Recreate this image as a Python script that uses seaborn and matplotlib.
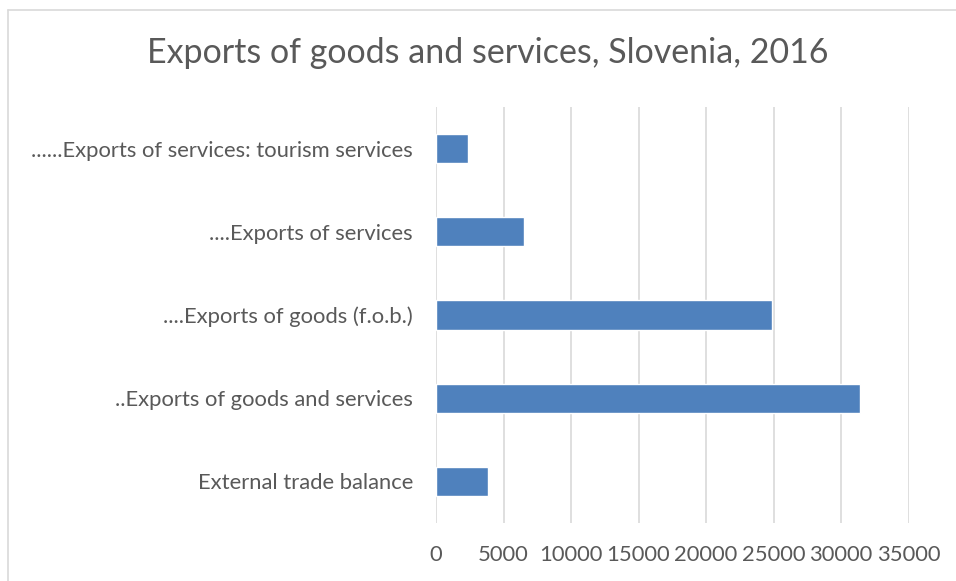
import matplotlib
matplotlib.use("Agg")
import matplotlib.pyplot as plt
from matplotlib.lines import Line2D
import seaborn as sns
import pandas as pd

categories = [
    "......Exports of services: tourism services",
    "....Exports of services",
    "....Exports of goods (f.o.b.)",
    "..Exports of goods and services",
    "External trade balance",
]
values = [2348, 6519, 24911, 31430, 3852]
xticks = [0, 5000, 10000, 15000, 20000, 25000, 30000, 35000]

sns.set_theme(style="white")
plt.rcParams["font.family"] = ["Lato", "DejaVu Sans"]

W, H = 956, 581
fig = plt.figure(figsize=(W / 100, H / 100), dpi=100)
ax = fig.add_axes([436 / W, 1 - 523 / H, 472.5 / W, 416 / H])

df = pd.DataFrame({"category": categories, "value": values})
sns.barplot(data=df, x="value", y="category", order=categories, orient="h",
            color="#4f81bd", saturation=1, width=0.35, ax=ax, zorder=3)

ax.set_xlim(0, 35000)
ax.set_xticks(xticks)
ax.set_xticklabels([str(t) for t in xticks])
ax.set_xlabel("")
ax.set_ylabel("")
ax.grid(axis="x", color="#d9d9d9", linewidth=1.2, zorder=0)
ax.grid(axis="y", visible=False)
for s in ax.spines.values():
    s.set_visible(False)
ax.tick_params(axis="both", length=0, colors="#595959", labelsize=15.8)
ax.tick_params(axis="x", pad=16)
ax.tick_params(axis="y", pad=16.5)

fig.text(488 / W, 1 - 53 / H, "Exports of goods and services, Slovenia, 2016",
         ha="center", va="center", fontsize=24.5, color="#595959")

# chart-area frame
fig.add_artist(Line2D([7.5 / W, 7.5 / W], [0, 1 - 10 / H], transform=fig.transFigure,
                      color="#d9d9d9", linewidth=1.2))
fig.add_artist(Line2D([7.5 / W, 1], [1 - 10 / H, 1 - 10 / H], transform=fig.transFigure,
                      color="#d9d9d9", linewidth=1.2))

fig.savefig("out.png", dpi=100, facecolor="white")
